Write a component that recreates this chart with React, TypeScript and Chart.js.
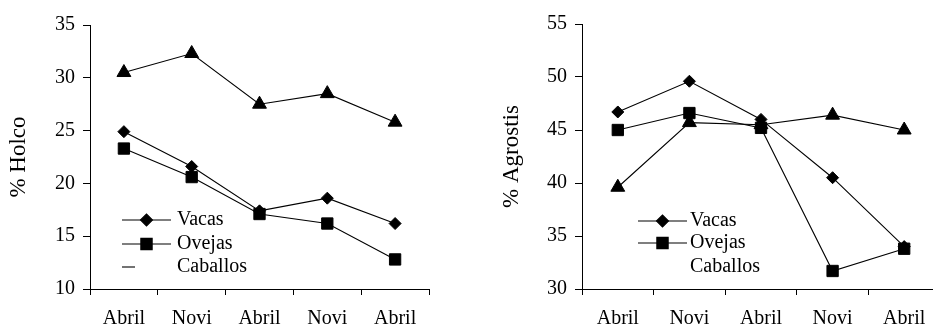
import React, { useEffect, useRef } from "react";
import { Chart, registerables } from "chart.js";
import { drawPoint } from "chart.js/helpers";

Chart.register(...registerables);

const categories = ["Abril", "Novi", "Abril", "Novi", "Abril"];
const seriesNames = ["Vacas", "Ovejas", "Caballos"];

const holcoVacas = [24.9, 21.6, 17.4, 18.6, 16.2];
const holcoOvejas = [23.3, 20.6, 17.1, 16.2, 12.8];
const holcoCaballos = [30.5, 32.3, 27.5, 28.5, 25.8];

const agrostisVacas = [46.7, 49.6, 46.0, 40.5, 34.0];
const agrostisOvejas = [45.0, 46.6, 45.2, 31.7, 33.8];
const agrostisCaballos = [39.6, 45.7, 45.5, 46.4, 45.0];

const FONT = "'Liberation Serif', 'Times New Roman', serif";

const legendPlugin = {
  id: "innerLegend",
  afterDraw(chart: any) {
    const o = chart.options.plugins.innerLegend;
    if (!o) return;
    const ctx = chart.ctx;
    ctx.save();
    const ds = chart.data.datasets;
    ds.forEach((d: any, i: number) => {
      const y = o.rows[i];
      ctx.strokeStyle = "#000";
      ctx.lineWidth = 1.1;
      if (i < 2) {
        ctx.beginPath();
        ctx.moveTo(o.x0, y);
        ctx.lineTo(o.x1, y);
        ctx.stroke();
        ctx.fillStyle = "#000";
        drawPoint(ctx, { pointStyle: d.pointStyle, radius: d.pointRadius, borderWidth: 1, rotation: 0 }, (o.x0 + o.x1) / 2, y);
      } else if (o.shortLine) {
        ctx.beginPath();
        ctx.moveTo(o.x0, y);
        ctx.lineTo(o.x0 + o.shortLine, y);
        ctx.stroke();
      }
      ctx.fillStyle = "#000";
      ctx.font = `20px ${FONT}`;
      ctx.textBaseline = "middle";
      ctx.textAlign = "left";
      ctx.fillText(d.label, o.textX, y);
    });
    ctx.restore();
  },
};

function makeConfig(
  vacas: number[],
  ovejas: number[],
  caballos: number[],
  title: string,
  min: number,
  max: number,
  yWidth: number,
  padLeft: number,
  padRight: number,
  padTop: number,
  legend: any
): any {
  const base = {
    borderColor: "#000",
    backgroundColor: "#000",
    pointBackgroundColor: "#000",
    pointBorderColor: "#000",
    borderWidth: 1.1,
    pointBorderWidth: 1,
    tension: 0,
  };
  return {
    type: "line",
    data: {
      labels: categories,
      datasets: [
        { ...base, label: seriesNames[0], data: vacas, pointStyle: "rectRot", pointRadius: 6 },
        { ...base, label: seriesNames[1], data: ovejas, pointStyle: "rect", pointRadius: 8 },
        { ...base, label: seriesNames[2], data: caballos, pointStyle: "triangle", pointRadius: 8 },
      ],
    },
    options: {
      responsive: false,
      animation: false,
      devicePixelRatio: 1,
      layout: { padding: { left: padLeft, right: padRight, top: padTop, bottom: 0 } },
      plugins: {
        legend: { display: false },
        tooltip: { enabled: false },
        innerLegend: legend,
      },
      scales: {
        x: {
          type: "category",
          offset: true,
          grid: {
            display: true,
            offset: true,
            drawOnChartArea: false,
            drawTicks: true,
            tickLength: 6,
            color: "#000",
          },
          border: { display: true, color: "#000", width: 1 },
          ticks: {
            color: "#000",
            font: { family: FONT, size: 20 },
            padding: 12,
            maxRotation: 0,
            autoSkip: false,
          },
          afterFit(scale: any) {
            scale.height = 35;
          },
        },
        y: {
          min,
          max,
          grid: {
            display: true,
            drawOnChartArea: false,
            drawTicks: true,
            tickLength: 7,
            color: "#000",
          },
          border: { display: true, color: "#000", width: 1 },
          ticks: {
            stepSize: 5,
            color: "#000",
            font: { family: FONT, size: 20 },
            padding: 8,
          },
          title: {
            display: true,
            text: title,
            color: "#000",
            font: { family: FONT, size: 23 },
            padding: { top: 4, bottom: 4 },
          },
          afterFit(scale: any) {
            scale.width = yWidth;
          },
        },
      },
    },
    plugins: [legendPlugin],
  };
}

export default function App() {
  const leftRef = useRef<HTMLCanvasElement>(null);
  const rightRef = useRef<HTMLCanvasElement>(null);

  useEffect(() => {
    const c1 = new Chart(
      leftRef.current as HTMLCanvasElement,
      makeConfig(holcoVacas, holcoOvejas, holcoCaballos, "% Holco", 10, 35, 89, 1, 37, 25, {
        x0: 122,
        x1: 171,
        textX: 177,
        rows: [220, 244, 267],
        shortLine: 13,
      })
    );
    const c2 = new Chart(
      rightRef.current as HTMLCanvasElement,
      makeConfig(agrostisVacas, agrostisOvejas, agrostisCaballos, "% Agrostis", 30, 55, 88, 24, 10, 24, {
        x0: 168,
        x1: 217,
        textX: 220,
        rows: [221, 243, 267],
        shortLine: 0,
      })
    );
    return () => {
      c1.destroy();
      c2.destroy();
    };
  }, []);

  return (
    <div
      style={{
        position: "fixed",
        left: 0,
        top: 0,
        width: 933,
        height: 324,
        overflow: "hidden",
        background: "#fff",
      }}
    >
      <canvas
        ref={leftRef}
        width={466}
        height={324}
        style={{ position: "absolute", left: 0, top: 0, width: 466, height: 324 }}
      />
      <canvas
        ref={rightRef}
        width={480}
        height={324}
        style={{ position: "absolute", left: 470, top: 0, width: 480, height: 324 }}
      />
    </div>
  );
}
